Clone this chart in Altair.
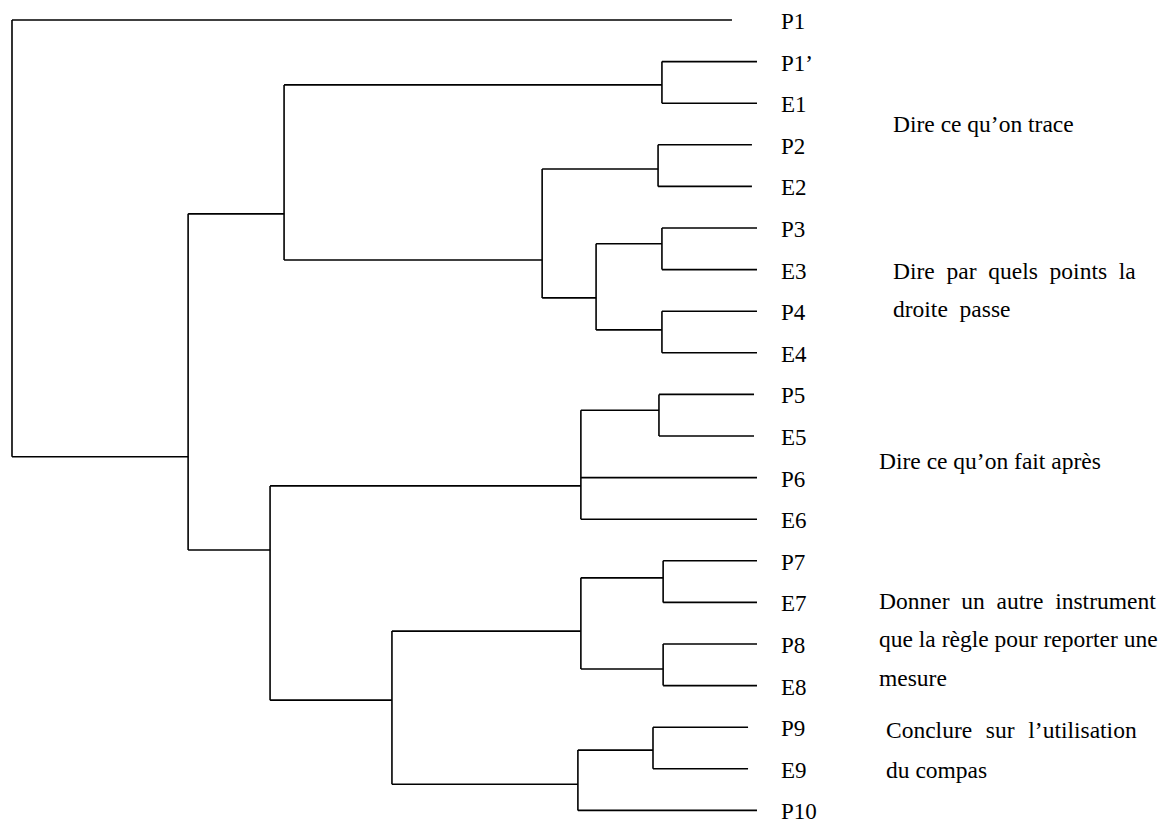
import altair as alt
import pandas as pd

# ---- data ----
leaves = ["P1", "P1’", "E1", "P2", "E2", "P3", "E3", "P4", "E4", "P5",
          "E5", "P6", "E6", "P7", "E7", "P8", "E8", "P9", "E9", "P10"]
# distance at which each leaf branch starts (0 = leaf edge)
leaf_tip = [0.84, 0, 0, 0.17, 0.17, 0, 0, 0, 0, 0.1,
            0.1, 0, 0, 0, 0, 0, 0, 0.3, 0.3, 0]

cluster_names = ["c1", "c2", "c3", "c4", "c5", "c6", "c7", "c8", "c9",
                 "c10", "c11", "c12", "c13", "c14", "c15", "c16", "c17", "c18"]
cluster_children = [
    ["P1’", "E1"], ["P2", "E2"], ["P3", "E3"], ["P4", "E4"],
    ["c3", "c4"], ["c2", "c5"], ["c1", "c6"],
    ["P5", "E5"], ["c8", "P6", "E6"],
    ["P7", "E7"], ["P8", "E8"], ["c10", "c11"],
    ["P9", "E9"], ["c13", "P10"], ["c12", "c14"],
    ["c9", "c15"], ["c7", "c16"], ["P1", "c17"],
]
# merge distance (rescaled 0-25)
cluster_height = [3.19, 3.32, 3.19, 3.19, 5.40, 7.21, 15.87,
                  3.29, 5.91, 3.15, 3.15, 5.91, 3.49, 6.01,
                  12.25, 16.34, 19.09, 25.0]
# row (in leaf units) where each cluster is joined to its parent
cluster_attach = [1.56, 3.58, 5.38, 7.45, 6.68, 5.77, 4.66,
                  9.38, 11.20, 13.41, 15.60, 14.69, 17.55, 18.37,
                  16.35, 12.74, 10.50, 10.50]

notes_a = ["Dire ce qu’on trace",
           "Dire\u00a0\u00a0par\u00a0\u00a0quels\u00a0\u00a0points\u00a0\u00a0la",
           "droite\u00a0\u00a0passe"]
notes_a_row = [2.52, 6.06, 6.97]
notes_b = ["Dire ce qu’on fait après",
           "Donner\u00a0\u00a0un\u00a0\u00a0autre\u00a0\u00a0instrument",
           "que la règle pour reporter une",
           "mesure"]
notes_b_row = [10.63, 13.98, 14.9, 15.83]
notes_c = ["Conclure\u00a0\u00a0\u200asur\u00a0\u00a0\u200al’utilisation",
           "du compas"]
notes_c_row = [17.1, 18.05]

# ---- build segments ----
pos = {}      # attach row
start = {}    # distance where the node's branch starts
for i, name in enumerate(leaves):
    pos[name] = float(i)
    start[name] = leaf_tip[i]
for name, h, a in zip(cluster_names, cluster_height, cluster_attach):
    pos[name] = a
    start[name] = h

segs = []
for name, kids, h in zip(cluster_names, cluster_children, cluster_height):
    rows = [pos[k] for k in kids]
    segs.append(dict(x=h, x2=h, y=min(rows), y2=max(rows)))
    for k in kids:
        segs.append(dict(x=start[k], x2=h, y=pos[k], y2=pos[k]))
seg_df = pd.DataFrame(segs)

leaf_df = pd.DataFrame({"label": leaves, "row": range(len(leaves)), "lx": 0.0})

W, H = 1153, 815
xs = alt.Scale(domain=[-13.557, 25.134], reverse=True, nice=False, zero=False)
ys = alt.Scale(domain=[-0.2885, 19.303], reverse=True, nice=False, zero=False)

lines = alt.Chart(seg_df).mark_rule(color="black", strokeWidth=1.6).encode(
    x=alt.X("x:Q", scale=xs, axis=None),
    x2="x2:Q",
    y=alt.Y("y:Q", scale=ys, axis=None),
    y2="y2:Q",
)

labels = alt.Chart(leaf_df).mark_text(
    align="left", baseline="middle", dx=24, dy=2,
    font="Liberation Serif", fontSize=23, color="black",
).encode(
    x=alt.X("lx:Q", scale=xs, axis=None),
    y=alt.Y("row:Q", scale=ys, axis=None),
    text="label:N",
)


def note_layer(texts, rows, xpix):
    df = pd.DataFrame({"t": texts, "r": rows})
    return alt.Chart(df).mark_text(
        align="left", baseline="middle",
        font="Liberation Serif", fontSize=23.5, color="black",
    ).encode(
        x=alt.value(xpix),
        y=alt.Y("r:Q", scale=ys, axis=None),
        text="t:N",
    )


chart = alt.layer(
    lines, labels,
    note_layer(notes_a, notes_a_row, 885),
    note_layer(notes_b, notes_b_row, 871),
    note_layer(notes_c, notes_c_row, 878),
).properties(
    width=W, height=H, padding=0,
    autosize=alt.AutoSizeParams(type="none"),
    background="white",
).configure_view(stroke=None)

chart.save("out.html", embed_options={"renderer": "svg", "actions": False})
